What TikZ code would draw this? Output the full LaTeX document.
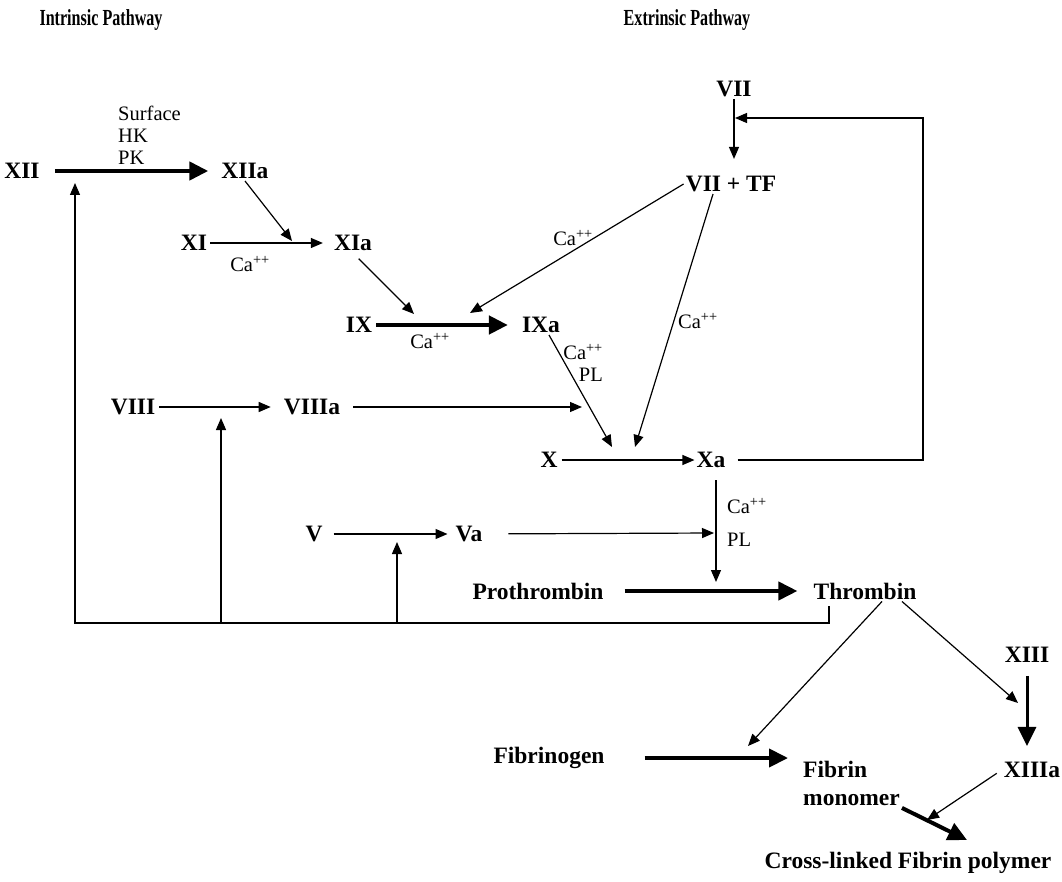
\documentclass[tikz,border=0pt]{standalone}
\usepackage{fontspec}
\setmainfont{Liberation Serif}
\newfontfamily\hdrfont[FakeStretch=0.7]{Liberation Serif}
\usetikzlibrary{arrows.meta}

\begin{document}
\begin{tikzpicture}[x=1pt,y=-1pt,
  fac/.style={font=\fontsize{23.5}{28}\selectfont\bfseries,inner sep=2pt},
  hdr/.style={font=\hdrfont\fontsize{23}{25}\selectfont\bfseries},
  lbl/.style={font=\fontsize{20.5}{22}\selectfont,inner sep=1pt},
  thn/.style={line width=1.2pt,-{Triangle[length=12pt,width=10pt]}},
  thk/.style={line width=4.5pt,-{Triangle[length=19pt,width=18pt]}}]
\useasboundingbox (0,0) rectangle (1062,882);

\node[hdr] (hin) at (101,20) {Intrinsic Pathway};
\node[hdr] (hex) at (687,20) {Extrinsic Pathway};

\node[fac] (XII) at (22,171) {XII};
\node[fac] (XIIa) at (245,171) {XIIa};
\node[fac] (XI) at (194,243) {XI};
\node[fac] (XIa) at (353,243) {XIa};
\node[fac] (IX) at (359,325) {IX};
\node[fac] (IXa) at (541,325) {IXa};
\node[fac] (VIII) at (133,407) {VIII};
\node[fac] (VIIIa) at (312,407) {VIIIa};
\node[fac] (X) at (549,460) {X};
\node[fac] (Xa) at (711,460) {Xa};
\node[fac] (V) at (314,534) {V};
\node[fac] (Va) at (469,534) {Va};
\node[fac] (Pro) at (538,591) {Prothrombin};
\node[fac] (Thr) at (865,591) {Thrombin};
\node[fac] (VII) at (734,89) {VII};
\node[fac] (VIITF) at (731,184) {VII + TF};
\node[fac] (XIII) at (1027,655) {XIII};
\node[fac] (XIIIa) at (1032,770) {XIIIa};
\node[fac] (Fbg) at (549,758) {Fibrinogen};
\node[fac,align=left,anchor=north west] (Fib) at (801,759) {Fibrin\\monomer};
\node[fac] (Poly) at (908,863) {Cross-linked Fibrin polymer};

\node[lbl,align=left,anchor=west] (sfc) at (117,135) {Surface\\HK\\PK};
\node[lbl] (ca1) at (250,264) {Ca\textsuperscript{++}};
\node[lbl] (ca2) at (430,341) {Ca\textsuperscript{++}};
\node[lbl] (ca3) at (573,238) {Ca\textsuperscript{++}};
\node[lbl,anchor=west] (ca4) at (677,321) {Ca\textsuperscript{++}};
\node[lbl,align=right,anchor=east] (ca5) at (604,363) {Ca\textsuperscript{++}\\PL};
\node[lbl,anchor=west] (ca6) at (726,506) {Ca\textsuperscript{++}};
\node[lbl,anchor=west] (pl6) at (726,540) {PL};

\coordinate (cXI) at (292,241);
\coordinate (cIX1) at (414,314);
\coordinate (cIX2) at (470,313);
\coordinate (cX0) at (582,407);
\coordinate (cX1) at (612,447);
\coordinate (cX2) at (635,447);
\coordinate (cVa) at (714,533);
\coordinate (cPro) at (716,582);
\coordinate (fbR) at (923,118);
\coordinate (cVII) at (735,118);
\coordinate (fb) at (829,623);
\coordinate (cXII) at (75,183);
\coordinate (cVIII) at (221,418);
\coordinate (cV) at (397,542);
\coordinate (cFib) at (748,746);
\coordinate (cXIIIa) at (1018,703);
\coordinate (cPoly) at (967,840);
\coordinate (cCross) at (927,820);

\draw[thk,shorten <=13pt,shorten >=11pt] (XII) -- (XIIa);
\draw[thn,shorten <=1pt,shorten >=9pt] (XI) -- (XIa);
\draw[thn] (XIIa.south) -- (cXI);
\draw[thk,shorten <=2pt,shorten >=12pt] (IX) -- (IXa);
\draw[thn,shorten <=8pt] (XIa.south) -- (cIX1);
\draw[thn] (VIITF.west) -- (cIX2);
\draw[thn,shorten <=2pt,shorten >=11pt] (VIII) -- (VIIIa);
\draw[thn,shorten <=11pt] (VIIIa) -- (cX0);
\draw[thn] ([xshift=8pt]IXa.south) -- (cX1);
\draw[thn] ([xshift=-18pt]VIITF.south) -- (cX2);
\draw[thn,shorten <=2pt] (X) -- (Xa);
\draw[thn,shorten <=10pt] (Xa.east) -- (Xa.east -| fbR) -- (fbR) -- (cVII);
\draw[thn,shorten >=15pt] (VII.south) -- (VII.south |- VIITF.north);
\draw[thn,shorten <=9pt,shorten >=6pt] (V) -- (Va);
\draw[thn,shorten <=24pt] (Va) -- (cVa);
\draw[thn,shorten <=10pt] (Xa.south -| cPro) -- (cPro);
\draw[thk,line width=4pt,shorten <=19pt,shorten >=14pt] (Pro) -- (Thr);
\draw[thn,shorten <=5pt] (Thr.south -| fb) -- (fb) -- (fb -| cXII) -- (cXII);
\draw[thn] (cVIII |- fb) -- (cVIII);
\draw[thn] (cV |- fb) -- (cV);
\draw[thn] ([xshift=17pt]Thr.south) -- (cFib);
\draw[thn] ([xshift=37pt]Thr.south) -- (cXIIIa);
\draw[thk,line width=3pt,shorten <=11pt,shorten >=14pt] (XIII.south) -- (XIII.south |- XIIIa.north);
\draw[thk,line width=4pt,shorten <=38pt,shorten >=13pt] (Fbg) -- (Fbg -| Fib.west);
\draw[thn,shorten <=6pt] (XIIIa.west) -- (cCross);
\draw[thk,line width=4pt] (Fib.south east) -- (cPoly);

\end{tikzpicture}
\end{document}
